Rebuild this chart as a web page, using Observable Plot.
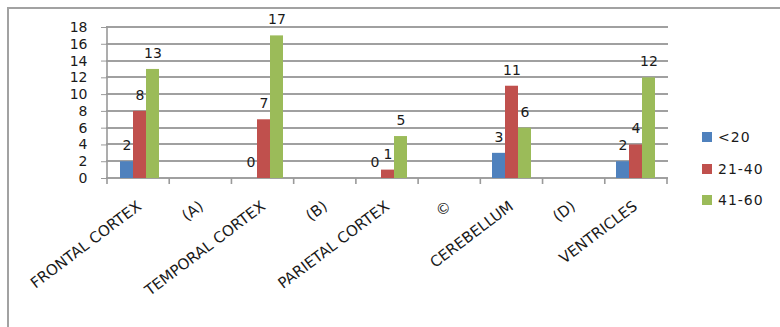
<!DOCTYPE html>
<html>
<head>
<meta charset="utf-8">
<script src="https://cdn.jsdelivr.net/npm/d3@7"></script>
<script src="https://cdn.jsdelivr.net/npm/@observablehq/plot@0.6"></script>
<style>
  html, body { margin: 0; padding: 0; background: #fff; }
  #wrap { position: relative; width: 780px; height: 327px; overflow: hidden; font-family: "DejaVu Sans", sans-serif; }
  #edge { position: absolute; left: 7px; top: 7px; right: -4px; bottom: -4px;
          border-top: 2px solid #a2a2a2; border-left: 2px solid #a2a2a2; }
  #grid { position: absolute; left: 0; top: 0; width: 780px; height: 327px; }
  #grid .gl { position: absolute; height: 2px; background: #a0a0a0; }
  #wrap svg { position: absolute; left: 0; top: 0; }
  #legend { position: absolute; left: 702px; top: 128px; }
  #legend .item { display: flex; align-items: center; height: 18px; margin-bottom: 13.5px;
                  font-size: 14px; letter-spacing: 1px; color: #1a1a1a; }
  #legend .sw { width: 10px; height: 10px; margin-right: 6px; }
</style>
</head>
<body>
<div id="wrap"><div id="edge"></div><div id="grid"></div></div>
<script>
// Brain regions along the x axis (lettered slots are empty)
const categories = ["FRONTAL CORTEX", "(A)", "TEMPORAL CORTEX", "(B)", "PARIETAL CORTEX", "©", "CEREBELLUM", "(D)", "VENTRICLES"];
// Age groups
const series = ["<20", "21-40", "41-60"];
const seriesColors = ["#4f81bd", "#c0504d", "#9bbb59"];
// Counts per region for each age group (null = no bar)
const ageUnder20 = [2, null, 0, null, 0, null, 3, null, 2];
const age21to40 = [8, null, 7, null, 1, null, 11, null, 4];
const age41to60 = [13, null, 17, null, 5, null, 6, null, 12];
// Y axis ticks
const yTicks = [0, 2, 4, 6, 8, 10, 12, 14, 16, 18];

const valuesBySeries = [ageUnder20, age21to40, age41to60];
const rows = [];
categories.forEach((category, i) => {
  series.forEach((s, j) => {
    const v = valuesBySeries[j][i];
    if (v != null) rows.push({category, series: s, value: v});
  });
});

const chart = Plot.plot({
  width: 780,
  height: 327,
  marginLeft: 107,
  marginRight: 113,
  marginTop: 27,
  marginBottom: 149,
  style: {fontFamily: "DejaVu Sans, sans-serif", background: "transparent", overflow: "visible"},
  fx: {domain: categories, padding: 0, label: null},
  x: {domain: series, paddingInner: 0, paddingOuter: 0.72, axis: null},
  y: {domain: [0, 18], label: null},
  color: {domain: series, range: seriesColors},
  marks: [
    Plot.axisY({ticks: yTicks, tickSize: 7, tickPadding: 14, stroke: "#9a9a9a", fill: "#1a1a1a",
                facetAnchor: "left", fontSize: 14, label: null, tickFormat: d => d,
                style: {letterSpacing: "1px"}}),
    Plot.axisFx({anchor: "bottom", tickSize: 0, tickPadding: 26, tickRotate: -37, fontSize: 15,
                 fill: "#1a1a1a", label: null, style: {letterSpacing: "0.9px"}}),
    Plot.barY(rows, {fx: "category", x: "series", y: "value", fill: "series"}),
    Plot.text(rows, {fx: "category", x: "series", y: "value", text: d => String(d.value),
                     dy: -16, fontSize: 14, fill: "#1a1a1a", style: {letterSpacing: "1px"}})
  ]
});

const svg = chart.tagName.toLowerCase() === "svg" ? chart : chart.querySelector("svg");
document.getElementById("wrap").appendChild(chart);

// Horizontal gridlines (including the zero line), the y axis line and the
// tick marks at region boundaries, placed with the chart's fx and y scales
const fxScale = chart.scale("fx");
const yScale = chart.scale("y");
const y0 = yScale.apply(0);
const yTop = yScale.apply(18);
const xLeft = fxScale.range[0];
const xRight = fxScale.range[1];
const step = (xRight - xLeft) / categories.length;
const bounds = d3.range(categories.length + 1).map(i => xLeft + i * step);
const lw = 1.6;

d3.select("#grid").selectAll("div.gl").data(yTicks).join("div")
  .attr("class", "gl")
  .style("left", `${xLeft - lw / 2}px`)
  .style("width", `${xRight - xLeft + lw}px`)
  .style("top", t => `${yScale.apply(t) - 1}px`);

const g = d3.select(svg).insert("g", ":scope > g").attr("fill", "#9a9a9a");
g.append("rect").attr("x", xLeft - lw / 2).attr("width", lw)
  .attr("y", yTop - lw / 2).attr("height", y0 - yTop + lw);
bounds.forEach(b => g.append("rect").attr("x", b - lw / 2).attr("width", lw)
  .attr("y", y0).attr("height", 6));

// Legend
const legend = d3.select("#wrap").append("div").attr("id", "legend");
series.forEach((s, j) => {
  const item = legend.append("div").attr("class", "item");
  item.append("div").attr("class", "sw").style("background", seriesColors[j]);
  item.append("span").text(s);
});
</script>
</body>
</html>
